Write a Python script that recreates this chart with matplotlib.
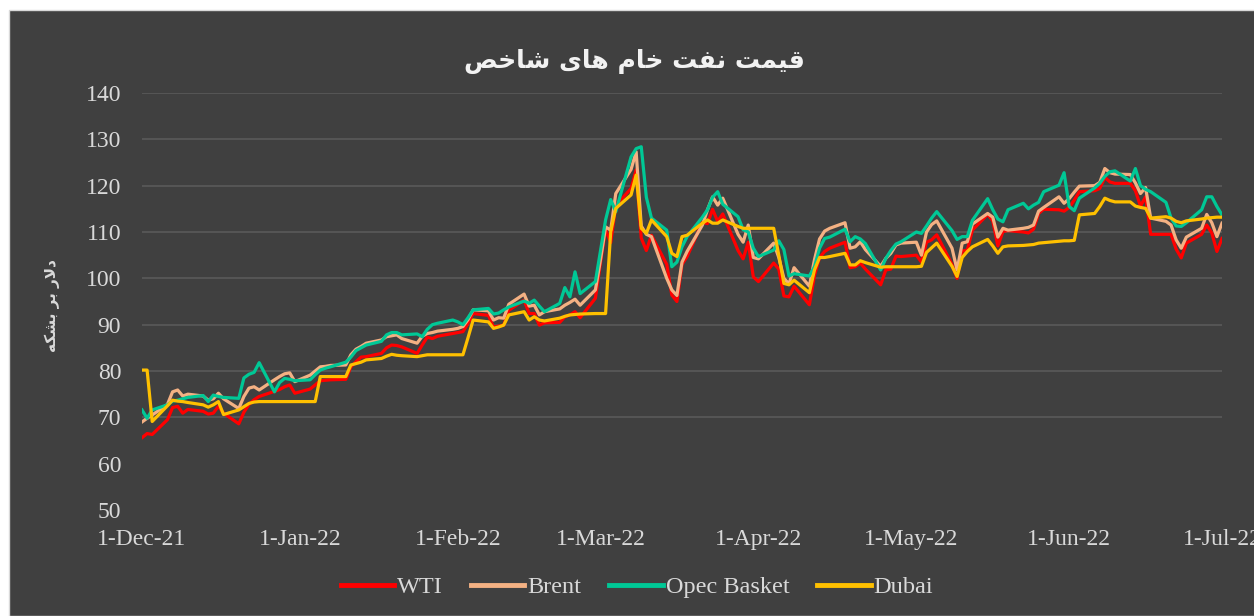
import numpy as np
import pandas as pd
import matplotlib
matplotlib.use("Agg")
import matplotlib.pyplot as plt
import matplotlib.dates as mdates
from matplotlib.patches import Rectangle

# Daten (Handelstage 1-Dec-21 .. 1-Jul-22)
dates = pd.bdate_range("2021-12-01", "2022-07-01")

wti = [
    65.6, 66.5, 66.3, 69.5, 72.1, 72.4, 70.9, 71.7, 71.3, 70.7, 70.9, 72.4, 70.9, 68.6, 71.1, 72.8, 73.8, 74.5, 75.6, 76.0, 76.6, 77.0, 75.2,
    76.1, 77.0, 77.9, 78.0, 78.1, 78.2, 80.9, 82.0, 83.0, 83.1, 83.8, 85.0, 85.6, 85.5, 85.2, 83.8, 85.6, 87.3, 87.0, 87.5, 88.1,
    88.3, 88.5, 90.3, 92.4, 92.0, 89.5, 89.7, 89.9, 93.1, 95.3, 92.4, 92.4, 89.9, 90.4, 90.5, 91.7, 92.1, 92.8, 91.5, 95.7,
    103.4, 110.6, 107.7, 115.7, 119.4, 123.4, 108.7, 106.0, 109.3, 103.0, 96.4, 95.0, 103.0, 104.7, 112.1, 111.8, 114.9, 112.3, 113.9, 106.0, 104.2, 107.8, 100.3,
    99.3, 103.3, 102.0, 96.2, 96.0, 98.3, 94.3, 100.6, 104.5, 105.8, 106.5, 107.8, 102.3, 102.5, 103.3, 102.0, 98.6, 101.8, 102.0, 104.8, 104.7,
    105.0, 103.5, 107.8, 108.3, 109.4, 103.0, 100.0, 105.9, 106.1, 110.4, 113.8, 112.4, 107.0, 110.1, 110.3, 110.0, 109.8, 110.6, 114.0, 114.9, 114.8, 114.5,
    115.3, 116.9, 118.7, 118.9, 119.4, 121.8, 120.8, 120.5, 120.5, 118.9, 115.6, 117.6, 109.5, 109.5, 109.5, 106.3, 104.4, 107.6, 109.5, 111.5, 109.8, 105.8,
    108.6,
]
brent = [
    69.0, 69.8, 70.5, 72.8, 75.5, 75.9, 74.6, 75.0, 74.6, 73.7, 74.0, 75.2, 74.0, 71.9, 74.5, 76.3, 76.6, 75.9, 78.1, 78.8, 79.4, 79.6, 77.7,
    79.1, 80.0, 80.9, 81.0, 81.2, 81.3, 83.5, 84.7, 85.3, 86.0, 86.7, 87.4, 87.6, 87.8, 87.0, 86.0, 87.5, 88.1, 88.3, 88.6, 89.0,
    89.2, 89.6, 91.1, 93.2, 93.0, 91.0, 91.5, 91.4, 94.4, 96.6, 94.0, 94.2, 92.1, 92.8, 93.4, 94.2, 94.8, 95.5, 94.2, 97.5,
    104.0, 111.1, 110.4, 118.3, 123.5, 127.3, 111.3, 109.5, 109.0, 100.0, 97.5, 96.3, 103.5, 105.8, 111.5, 114.8, 117.6, 115.8, 117.3, 109.5, 107.8, 111.5, 104.5,
    104.2, 107.6, 104.5, 100.0, 98.8, 102.3, 98.3, 104.0, 108.5, 110.2, 110.8, 112.0, 106.5, 106.8, 107.9, 106.2, 102.6, 104.3, 105.4, 107.2, 107.6,
    107.8, 105.0, 110.0, 111.6, 112.4, 106.5, 101.8, 107.6, 107.9, 111.7, 114.0, 113.2, 108.9, 110.8, 110.4, 110.8, 111.0, 111.5, 114.5, 115.3, 117.6, 116.2,
    117.2, 118.6, 119.9, 120.0, 120.7, 123.7, 122.8, 122.5, 122.4, 120.6, 118.3, 119.6, 113.0, 112.3, 111.5, 108.3, 106.5, 108.9, 110.8, 113.8, 112.0, 109.0,
    111.9,
]
opec = [
    71.6, 69.8, 71.6, 72.7, 73.5, 73.7, 74.0, 74.3, 74.7, 73.4, 74.8, 74.5, 74.3, 74.1, 78.5, 79.3, 79.7, 81.8, 75.5, 77.5, 78.4, 78.2, 77.9,
    78.1, 79.2, 80.2, 80.6, 80.9, 81.9, 83.0, 84.4, 85.0, 85.6, 86.4, 87.8, 88.3, 88.3, 87.8, 88.0, 87.4, 89.0, 90.0, 90.3, 91.0,
    90.6, 90.0, 91.5, 93.2, 93.5, 92.3, 92.5, 93.2, 93.8, 95.1, 94.6, 95.3, 94.0, 92.8, 94.6, 98.0, 96.0, 101.4, 96.7, 99.3,
    106.0, 112.6, 117.0, 114.4, 126.2, 128.0, 128.4, 117.5, 113.0, 110.4, 102.5, 103.5, 106.8, 109.0, 113.2, 114.8, 117.5, 118.7, 116.0, 113.3, 110.5, 110.0, 106.5,
    104.7, 106.1, 108.1, 106.2, 100.5, 101.0, 100.5, 102.5, 106.5, 108.6, 108.9, 110.6, 107.9, 109.0, 108.5, 107.5, 101.8, 104.3, 106.0, 107.4, 107.9,
    110.0, 109.7, 111.3, 113.0, 114.4, 110.3, 108.4, 109.0, 109.0, 112.5, 117.2, 114.8, 112.8, 112.2, 114.8, 116.2, 115.0, 115.8, 116.4, 118.7, 120.1, 122.8,
    115.5, 114.6, 117.3, 119.5, 120.5, 122.0, 123.0, 123.2, 121.0, 123.7, 120.0, 119.2, 118.7, 116.4, 113.0, 111.3, 111.2, 112.0, 114.8, 117.6, 117.6, 115.5,
    113.7,
]
dubai = [
    80.2, 80.2, 69.1, 72.5, 73.7, 73.5, 73.4, 73.2, 72.7, 72.2, 72.7, 73.4, 70.6, 71.6, 72.3, 73.0, 73.3, 73.4, 73.4, 73.4, 73.4, 73.4, 73.4,
    73.4, 73.4, 78.8, 78.8, 78.8, 78.8, 81.3, 81.6, 81.9, 82.4, 82.7, 83.2, 83.6, 83.4, 83.3, 83.1, 83.3, 83.5, 83.5, 83.5, 83.5,
    83.5, 83.5, 87.2, 91.0, 90.6, 89.2, 89.5, 89.9, 92.1, 92.8, 91.0, 91.7, 91.0, 90.8, 91.4, 91.8, 92.1, 92.2, 92.3, 92.4,
    92.4, 92.4, 110.0, 115.1, 118.0, 122.3, 110.8, 109.7, 112.6, 109.0, 105.4, 104.7, 109.0, 109.3, 111.9, 112.6, 111.9, 111.9, 112.6, 111.2, 110.8, 110.8, 110.8,
    110.8, 110.8, 105.0, 98.9, 98.6, 99.6, 96.9, 101.8, 104.5, 104.5, 104.7, 105.4, 102.9, 102.9, 103.8, 103.4, 102.4, 102.5, 102.5, 102.5, 102.5,
    102.5, 102.6, 105.6, 106.6, 107.6, 102.6, 100.4, 104.5, 105.8, 106.8, 108.4, 107.0, 105.4, 106.8, 107.0, 107.1, 107.2, 107.3, 107.6, 107.7, 108.0, 108.1,
    108.1, 108.2, 113.7, 114.0, 115.5, 117.3, 116.8, 116.5, 116.5, 115.6, 115.3, 115.1, 113.0, 113.3, 113.0, 112.3, 112.0, 112.4, 112.8, 113.0, 113.1, 113.2,
    113.2,
]

labels = ["WTI", "Brent", "Opec Basket", "Dubai"]
colors = ["#ff0000", "#f4b183", "#00c896", "#ffc000"]
yticks = np.arange(50, 141, 10)

title_fa = "قیمت نفت خام های شاخص"
ylabel_fa = "دلار بر بشکه"

# einfache persische Formung (matplotlib hat kein Shaping)
FORMS = {
    "ا": ("\uFE8D", "\uFE8E", None, None),
    "ب": ("\uFE8F", "\uFE90", "\uFE91", "\uFE92"),
    "ت": ("\uFE95", "\uFE96", "\uFE97", "\uFE98"),
    "خ": ("\uFEA5", "\uFEA6", "\uFEA7", "\uFEA8"),
    "د": ("\uFEA9", "\uFEAA", None, None),
    "ر": ("\uFEAD", "\uFEAE", None, None),
    "ش": ("\uFEB5", "\uFEB6", "\uFEB7", "\uFEB8"),
    "ص": ("\uFEB9", "\uFEBA", "\uFEBB", "\uFEBC"),
    "ف": ("\uFED1", "\uFED2", "\uFED3", "\uFED4"),
    "ق": ("\uFED5", "\uFED6", "\uFED7", "\uFED8"),
    "ک": ("\uFB8E", "\uFB8F", "\uFB90", "\uFB91"),
    "ل": ("\uFEDD", "\uFEDE", "\uFEDF", "\uFEE0"),
    "م": ("\uFEE1", "\uFEE2", "\uFEE3", "\uFEE4"),
    "ن": ("\uFEE5", "\uFEE6", "\uFEE7", "\uFEE8"),
    "ه": ("\uFEE9", "\uFEEA", "\uFEEB", "\uFEEC"),
    "ی": ("\uFBFC", "\uFBFD", "\uFBFE", "\uFBFF"),
}


def shape(text):
    out = []
    chars = list(text)
    i = 0
    while i < len(chars):
        c = chars[i]
        if c not in FORMS:
            out.append(c)
            i += 1
            continue
        prev = chars[i - 1] if i > 0 else None
        joins_prev = prev in FORMS and FORMS[prev][2] is not None
        # lam-alef
        if c == "ل" and i + 1 < len(chars) and chars[i + 1] == "ا":
            out.append("\uFEFC" if joins_prev else "\uFEFB")
            i += 2
            continue
        nxt = chars[i + 1] if i + 1 < len(chars) else None
        joins_next = FORMS[c][2] is not None and nxt in FORMS
        iso, fin, ini, med = FORMS[c]
        if joins_prev and joins_next:
            out.append(med)
        elif joins_prev:
            out.append(fin)
        elif joins_next:
            out.append(ini)
        else:
            out.append(iso)
        i += 1
    return "".join(out)[::-1]


bg = "#404040"
txt = "#d9d9d9"

fig = plt.figure(figsize=(12.54, 6.16), dpi=100, facecolor="white")
fig.patches.append(Rectangle((9 / 1254, 0), 1, 606 / 616, transform=fig.transFigure,
                             facecolor=bg, edgecolor="#d9d9d9", linewidth=1, zorder=-10))

ax = fig.add_axes([142 / 1254, 1 - 510 / 616, 1080 / 1254, 417 / 616])
ax.set_facecolor(bg)

for vals, lab, col in zip([wti, brent, opec, dubai], labels, colors):
    ax.plot(dates, vals, color=col, linewidth=2.3, label=lab, solid_joinstyle="round")

for v in yticks:
    if v >= 70:
        ax.axhline(v, color="#5a5a5a", linewidth=1.2, zorder=0)

ax.set_ylim(50, 140)
ax.set_yticks(yticks)
ax.set_xlim(pd.Timestamp("2021-12-01"), pd.Timestamp("2022-07-01"))
ax.xaxis.set_major_locator(mdates.MonthLocator(bymonthday=1))
ax.xaxis.set_major_formatter(mdates.DateFormatter("%-d-%b-%y"))

for s in ax.spines.values():
    s.set_visible(False)
ax.tick_params(axis="both", length=0, colors=txt, labelsize=17)
ax.tick_params(axis="y", pad=15)
ax.tick_params(axis="x", pad=14)
for lbl in ax.get_xticklabels() + ax.get_yticklabels():
    lbl.set_fontfamily("Liberation Serif")

fig.text(0.506, 1 - 62 / 616, shape(title_fa), ha="center", va="center",
         fontsize=18, fontweight="bold", color="#f2f2f2", family="DejaVu Sans")
fig.text(52 / 1254, 1 - 305 / 616, shape(ylabel_fa), ha="center", va="center",
         rotation=90, fontsize=11, fontweight="bold", color=txt, family="DejaVu Sans")

leg = fig.legend(loc="center", bbox_to_anchor=(0.508, 1 - 587 / 616), ncol=4,
                 frameon=False, handlelength=2.2, handletextpad=0.12, columnspacing=1.15,
                 prop={"family": "Liberation Serif", "size": 17.5})
for t in leg.get_texts():
    t.set_color(txt)
for h in leg.get_lines():
    h.set_linewidth(3.5)

fig.savefig("out.png", dpi=100, facecolor=fig.get_facecolor())
